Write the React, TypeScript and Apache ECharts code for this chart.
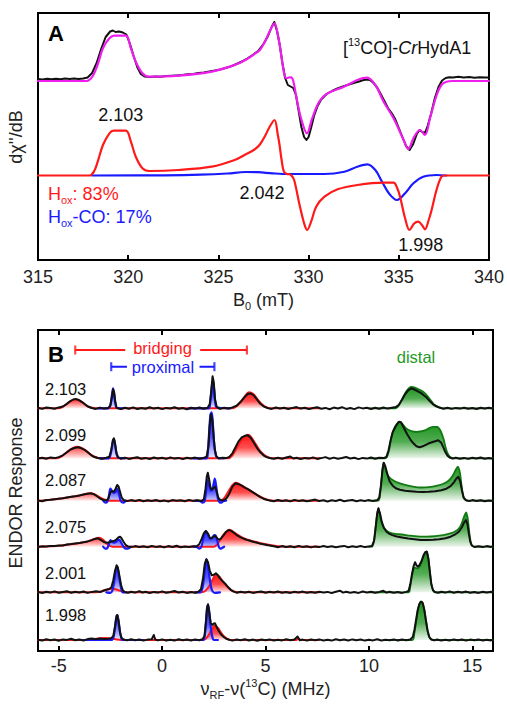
import React, { useEffect, useRef } from "react";
import * as echarts from "echarts";

type P = [number, number] | null;

// ---------------- Panel A: EPR (B0 in mT, signal in arbitrary units relative to baseline) ----------------
const aExperiment: P[] = [
  [315.0, 2], [315.25, 1.6], [315.5, 2.3], [315.75, 1.8], [316.0, 2.2], [316.25, 1.7], [316.5, 2.4], [316.75, 2.0],
  [317.0, 2.5], [317.25, 1.9], [317.5, 2.6], [317.75, 3.5], [318.0, 8], [318.25, 18], [318.5, 32], [318.75, 44],
  [319.0, 49.5], [319.15, 50.5], [319.3, 49], [319.5, 49.5], [319.7, 48.5], [319.9, 46.5], [320.1, 37], [320.3, 25],
  [320.5, 14], [320.7, 7], [320.9, 4.5], [321.2, 4], [321.5, 4.6], [321.8, 4.3], [322.1, 5], [322.4, 5.3], [322.7, 5.6],
  [323.0, 6], [323.3, 6.8], [323.6, 7.1], [323.9, 8], [324.2, 8.4], [324.5, 9.6], [324.8, 10.4], [325.1, 11.6],
  [325.4, 13], [325.7, 14.6], [326.0, 17], [326.3, 19.5], [326.6, 22.5], [326.9, 26], [327.2, 30], [327.5, 37],
  [327.75, 45], [327.95, 54], [328.1, 59], [328.25, 50], [328.4, 36], [328.55, 18], [328.7, 3], [328.85, -4],
  [329.0, -5.5], [329.15, -7], [329.3, -14], [329.45, -30], [329.6, -46], [329.75, -56], [329.88, -59], [330.0, -56],
  [330.15, -46], [330.3, -35], [330.5, -25], [330.7, -18.5], [331.0, -13], [331.3, -10], [331.6, -7.5], [331.9, -5.5],
  [332.2, -3.8], [332.5, -2], [332.8, -0.5], [333.0, 0.8], [333.2, 1.5], [333.4, 1], [333.6, -2], [333.8, -6.5],
  [334.0, -13], [334.2, -20], [334.4, -27], [334.6, -32], [334.8, -38], [335.0, -47], [335.2, -56], [335.4, -65],
  [335.6, -69], [335.8, -63], [336.0, -53], [336.15, -49], [336.3, -51], [336.45, -52], [336.6, -45], [336.8, -32],
  [337.0, -17], [337.2, -6], [337.4, 0.5], [337.6, 3], [337.8, 3.8], [338.0, 3.4], [338.3, 4.2], [338.6, 3.6],
  [338.9, 3.9], [339.2, 3.3], [339.5, 3.8], [339.8, 3.4], [340.0, 3.6],
];
const aSimulation: P[] = [
  [315, 0], [317.7, 0], [318.0, 4], [318.3, 16], [318.6, 32.7], [318.96, 42.7], [319.24, 45.3], [319.87, 45.3],
  [320.15, 32.7], [320.42, 19.3], [320.79, 7.7], [321.15, 4.3], [322.8, 5.3], [324.63, 9.3], [325.9, 16], [326.5, 21],
  [327.0, 27], [327.3, 31], [327.6, 40], [327.85, 50], [328.11, 57.7], [328.3, 46], [328.45, 30], [328.6, 12],
  [328.75, 2.7], [328.9, 3.5], [329.03, 3.7], [329.15, 0], [329.3, -14], [329.58, -37.3], [329.91, -52.3],
  [330.2, -37.3], [330.59, -20.7], [331.06, -12.3], [331.96, -5.7], [332.7, 1], [333.24, 3.3], [333.7, -4],
  [334.16, -20.7], [334.71, -37.3], [335.27, -59], [335.53, -68], [335.81, -57.3], [336.17, -49], [336.45, -54],
  [336.73, -37.3], [337.1, -14], [337.36, -4], [337.64, -0.7], [338, 0], [340, 0],
];
const aHox: P[] = [
  [315, 0], [317.86, 0], [318.1, 4], [318.31, 13.8], [318.6, 30.5], [318.96, 42.2], [319.2, 44.8], [319.87, 44.8],
  [320.15, 33.8], [320.42, 18.8], [320.79, 7.2], [321.15, 4.5], [322.8, 5.5], [324.63, 8.8], [325.9, 15.5], [326.5, 21],
  [327.0, 26], [327.3, 31], [327.6, 40], [327.85, 49], [328.11, 55.5], [328.3, 40], [328.39, 30.5], [328.5, 16],
  [328.63, 3.8], [328.8, 1.5], [328.94, 1.2], [329.05, 0], [329.2, -4.5], [329.48, -27.8], [329.75, -47.8],
  [329.92, -54.5], [330.14, -46.2], [330.42, -31.2], [330.88, -21.2], [331.61, -13.8], [332.71, -9.5], [334.16, -7.2],
  [334.71, -7.2], [334.9, -12], [335.07, -21.2], [335.35, -42.8], [335.59, -54.5], [335.85, -48], [336.08, -46.2],
  [336.3, -50], [336.45, -53.8], [336.65, -45], [336.82, -34.5], [337.09, -14.5], [337.36, -1.2], [337.55, 0], [340, 0],
];
const aHoxCO: P[] = [
  [318, 0], [322, 0.2], [324, 0.8], [325.5, 2], [326.5, 3.5], [327.2, 3.3], [328.0, 2.2], [328.86, 1.5], [330.88, 1.5],
  [331.98, 3.8], [332.7, 8.8], [333.26, 11.2], [333.7, 5.5], [334.07, -6.2], [334.45, -17.8], [334.9, -24.5],
  [335.35, -17.8], [335.81, -7.8], [336.36, -1.2], [337.09, 0.5], [337.64, 0],
];
const aGValues = ["2.103", "2.042", "1.998"];
const aFractions = { hox: "83%", hoxco: "17%" };

// ---------------- Panel B: ENDOR (MHz, signal relative to each trace's baseline) ----------------
const endorGValues = ["2.103", "2.099", "2.087", "2.075", "2.001", "1.998"];

const exp2103: P[] = [
  [-6.0, 0.5], [-5.8, -0.6], [-5.6, 0.8], [-5.4, 0.2], [-5.2, -0.5], [-5.0, 0.9], [-4.8, 1.8], [-4.6, 4.5], [-4.45, 7],
  [-4.3, 8.8], [-4.15, 9.2], [-4.0, 8], [-3.85, 6], [-3.7, 3.5], [-3.55, 1.5], [-3.4, 0.3], [-3.2, -0.6], [-3.0, 0.7],
  [-2.8, -0.3], [-2.6, 0.4], [-2.5, 3], [-2.42, 12], [-2.37, 19], [-2.32, 16], [-2.26, 6], [-2.2, 0.5], [-2.0, -0.8],
  [-1.8, 0.6], [-1.6, -0.4], [-1.4, 0.9], [-1.2, -0.7], [-1.0, 0.3], [-0.8, -0.5], [-0.6, 1], [-0.4, -0.3], [-0.2, 0.6],
  [0.0, -0.8], [0.2, 0.4], [0.4, -0.2], [0.6, 1.1], [0.8, -0.5], [1.0, 0.3], [1.2, -0.9], [1.4, 0.6], [1.6, -0.3],
  [1.8, 0.8], [2.0, -0.4], [2.2, 0.5], [2.3, 4], [2.38, 18], [2.44, 32], [2.5, 26], [2.56, 9], [2.64, 1.5], [2.8, -0.6],
  [3.0, 0.5], [3.2, -0.3], [3.4, 0.9], [3.6, 2.5], [3.8, 6.5], [4.0, 11.5], [4.15, 14.5], [4.3, 14.8], [4.45, 12.5],
  [4.6, 8.5], [4.75, 4.5], [4.9, 2], [5.1, 0.3], [5.3, -0.6], [5.5, 0.8], [5.7, -0.2], [5.9, 0.5], [6.1, -0.7],
  [6.3, 0.4], [6.5, 1.2], [6.7, -0.3], [6.9, 0.6], [7.1, -0.8], [7.3, 0.3], [7.5, 1.0], [7.7, -0.5], [7.9, 0.4],
  [8.1, -0.9], [8.3, 0.7], [8.5, -0.2], [8.7, 1.1], [8.9, -0.6], [9.1, 0.3], [9.3, -0.8], [9.5, 0.9], [9.7, -0.1],
  [9.9, 0.6], [10.1, -0.7], [10.3, 0.5], [10.5, -0.4], [10.7, 0.8], [10.9, -0.3], [11.1, 0.6], [11.3, 1.2], [11.45, 3.5],
  [11.6, 8.5], [11.75, 14], [11.9, 18], [12.05, 20], [12.2, 18.8], [12.35, 17.2], [12.5, 15.5], [12.65, 13],
  [12.8, 10.5], [12.95, 7], [13.1, 4], [13.25, 2], [13.4, 0.8], [13.6, -0.4], [13.8, 0.5], [14.0, -0.6], [14.2, 0.4],
  [14.4, -0.3], [14.6, 0.7], [14.8, -0.5], [15.0, 0.3], [15.2, -0.7], [15.4, 0.6], [15.6, -0.2], [15.8, 0.5], [16.0, -0.3],
];
const bri2103: P[] = [
  [-6, 0], [-5.0, 0], [-4.8, 1.5], [-4.6, 4.5], [-4.4, 7.5], [-4.2, 9], [-4.0, 8], [-3.8, 5], [-3.6, 2], [-3.4, 0.5],
  [-3.2, 0], [3.4, 0], [3.6, 2], [3.8, 6.5], [4.0, 12], [4.2, 16], [4.4, 14.5], [4.6, 9.5], [4.8, 4.5], [5.0, 1.5],
  [5.2, 0], [7.6, 0],
];
const pro2103: P[] = [
  [-3.1, 0], [-2.6, 0], [-2.5, 3], [-2.42, 14], [-2.37, 20], [-2.32, 15], [-2.26, 5], [-2.2, 0.5], [-1.9, 0], null,
  [1.3, 0], [2.25, 0], [2.32, 4], [2.38, 16], [2.44, 27], [2.5, 22], [2.56, 8], [2.64, 1], [3.3, 0],
];
const dis2103: P[] = [
  [10.0, 0], [11.3, 0], [11.45, 3], [11.6, 9], [11.75, 15], [11.9, 19.5], [12.05, 21.5], [12.2, 21], [12.35, 19.5],
  [12.5, 18], [12.65, 16], [12.8, 13], [12.95, 9], [13.1, 5], [13.25, 2.5], [13.4, 1], [13.6, 0], [16.0, 0],
];

const exp2099: P[] = [
  [-6.0, -0.3], [-5.8, 0.6], [-5.6, -0.5], [-5.4, 0.9], [-5.2, 0.2], [-5.0, 1.2], [-4.8, 3], [-4.6, 6], [-4.4, 9],
  [-4.2, 10.5], [-4.05, 11], [-3.9, 10], [-3.75, 8.5], [-3.6, 6], [-3.45, 3.5], [-3.3, 1.5], [-3.1, 0.3], [-2.9, -0.5],
  [-2.7, 0.6], [-2.55, 1.5], [-2.45, 9], [-2.38, 18], [-2.33, 20], [-2.27, 14], [-2.2, 5], [-2.12, 1], [-2.0, -0.4],
  [-1.8, 0.7], [-1.6, -0.6], [-1.4, 0.3], [-1.2, 1], [-1.0, -0.5], [-0.8, 0.4], [-0.6, -0.7], [-0.4, 0.8], [-0.2, -0.2],
  [0.0, 0.5], [0.2, -0.6], [0.4, 0.9], [0.6, -0.3], [0.8, 0.4], [1.0, -0.8], [1.2, 0.6], [1.4, -0.2], [1.6, 0.7],
  [1.8, -0.5], [2.0, 0.3], [2.15, 1.5], [2.24, 12], [2.3, 32], [2.36, 44], [2.42, 40], [2.48, 25], [2.55, 9], [2.62, 2],
  [2.75, -0.3], [2.9, 0.6], [3.1, 0.2], [3.25, 1.5], [3.4, 5], [3.55, 11], [3.7, 17], [3.85, 21], [4.0, 22.5],
  [4.15, 23], [4.3, 20], [4.45, 15], [4.6, 10], [4.75, 6], [4.9, 3], [5.05, 1.2], [5.2, 0.3], [5.4, -0.5], [5.6, 0.6],
  [5.8, -0.4], [6.0, 0.8], [6.2, 1.8], [6.35, -0.2], [6.5, 0.5], [6.7, -0.7], [6.9, 0.4], [7.1, -0.3], [7.3, 0.9],
  [7.5, -0.6], [7.7, 0.2], [7.9, 1.2], [8.1, -0.4], [8.3, 0.7], [8.5, -0.5], [8.7, 0.3], [8.9, 1.3], [9.1, -0.2],
  [9.3, 0.6], [9.5, -0.8], [9.7, 0.4], [9.9, -0.3], [10.1, 0.8], [10.3, -0.5], [10.5, 0.6], [10.7, 0.2], [10.85, 1.5],
  [10.95, 8], [11.05, 18], [11.15, 26], [11.3, 32], [11.45, 36.5], [11.55, 36], [11.7, 30], [11.85, 24], [12.0, 19],
  [12.15, 15], [12.3, 12], [12.45, 11], [12.6, 12], [12.75, 13.5], [12.9, 15], [13.05, 16], [13.2, 17], [13.35, 18],
  [13.5, 15.5], [13.6, 11], [13.7, 6], [13.8, 2.5], [13.9, 0.8], [14.05, -0.3], [14.2, 0.7], [14.4, -0.5], [14.6, 0.4],
  [14.8, -0.6], [15.0, 0.5], [15.2, -0.2], [15.4, 0.8], [15.6, -0.4], [15.8, 0.3], [16.0, -0.5],
];
const bri2099: P[] = [
  [-6, 0], [-5.1, 0], [-4.9, 1.5], [-4.7, 4.5], [-4.5, 8], [-4.3, 10.5], [-4.1, 11.5], [-3.9, 10.5], [-3.7, 8],
  [-3.5, 4.5], [-3.3, 1.8], [-3.1, 0.3], [-2.9, 0], [3.2, 0], [3.4, 3], [3.6, 10], [3.8, 17], [4.0, 21.5], [4.15, 23.5],
  [4.3, 21.5], [4.5, 15], [4.7, 8.5], [4.9, 4], [5.1, 1.3], [5.3, 0], [7.6, 0],
];
const pro2099: P[] = [
  [-3.0, 0], [-2.6, 0], [-2.5, 3], [-2.43, 11], [-2.37, 18], [-2.32, 19], [-2.26, 12], [-2.2, 4], [-2.12, 0.5],
  [-1.8, 0], null, [1.5, 0], [2.15, 0], [2.22, 8], [2.28, 28], [2.34, 44], [2.4, 46], [2.46, 33], [2.52, 14], [2.6, 3],
  [2.7, 0.3], [3.0, 0],
];
const dis2099: P[] = [
  [10, 0], [10.8, 0], [10.95, 6], [11.05, 17], [11.15, 26], [11.3, 33], [11.45, 36.5], [11.6, 35], [11.75, 31],
  [11.9, 28.5], [12.1, 27], [12.3, 26.5], [12.5, 27], [12.7, 28], [12.9, 30], [13.1, 31.5], [13.3, 31.5], [13.45, 28],
  [13.6, 20], [13.72, 10], [13.85, 3], [14.0, 0.5], [14.2, 0], [16, 0],
];

const exp2087: P[] = [
  [-6.0, 0.3], [-5.8, -0.5], [-5.6, 0.7], [-5.4, 0.9], [-5.2, 1.4], [-5.0, 1.9], [-4.8, 2.4], [-4.6, 3.2], [-4.4, 3.9],
  [-4.2, 4.5], [-4.0, 5.3], [-3.8, 6.2], [-3.6, 7], [-3.45, 7.4], [-3.3, 6.5], [-3.15, 4.5], [-3.0, 2.2], [-2.85, 0.8],
  [-2.7, 0.3], [-2.6, 2], [-2.5, 8.5], [-2.42, 9.5], [-2.33, 9], [-2.25, 12], [-2.17, 15.7], [-2.1, 14], [-2.02, 8],
  [-1.95, 3], [-1.85, 0.5], [-1.7, -0.4], [-1.5, 0.6], [-1.3, -0.3], [-1.1, 0.8], [-0.9, -0.6], [-0.7, 0.4], [-0.5, -0.2],
  [-0.3, 0.7], [-0.1, -0.5], [0.1, 0.3], [0.3, -0.8], [0.5, 0.6], [0.7, -0.1], [0.9, 0.5], [1.1, -0.6], [1.3, 0.8],
  [1.5, -0.2], [1.7, 0.4], [1.9, -0.4], [2.02, 1.5], [2.1, 12], [2.16, 24], [2.21, 28], [2.27, 22], [2.34, 13],
  [2.42, 11], [2.5, 13], [2.57, 14], [2.64, 9], [2.72, 3], [2.82, 0.6], [2.95, 0.2], [3.1, 2], [3.25, 7], [3.4, 14],
  [3.55, 17.4], [3.7, 16.5], [3.85, 15], [4.0, 13], [4.15, 11.5], [4.3, 9.5], [4.45, 7.5], [4.6, 5.5], [4.75, 3.5],
  [4.9, 2], [5.05, 1], [5.2, 0.3], [5.4, -0.5], [5.6, 0.7], [5.8, -0.3], [6.0, 0.4], [6.2, -0.7], [6.4, 0.8],
  [6.6, -0.2], [6.8, 0.5], [7.0, -0.6], [7.2, 0.3], [7.4, 1.1], [7.6, -0.4], [7.8, 0.5], [8.0, -0.8], [8.2, 0.4],
  [8.4, -0.3], [8.6, 0.9], [8.8, -0.5], [9.0, 0.2], [9.2, 0.7], [9.4, -0.6], [9.6, 0.4], [9.8, -0.2], [10.0, 0.6],
  [10.2, -0.4], [10.4, 0.5], [10.5, 3], [10.58, 15], [10.65, 30], [10.72, 38], [10.8, 34], [10.9, 26], [11.0, 19.5],
  [11.15, 15], [11.3, 12.5], [11.5, 11], [11.75, 10], [12.0, 9.5], [12.3, 9], [12.6, 8.8], [12.9, 9], [13.2, 9.5],
  [13.5, 10.5], [13.75, 12], [13.95, 14.5], [14.1, 18], [14.22, 22], [14.32, 24], [14.42, 19], [14.5, 10], [14.58, 3],
  [14.7, 0.5], [14.85, -0.4], [15.0, 0.6], [15.2, -0.3], [15.4, 0.5], [15.6, -0.6], [15.8, 0.3], [16.0, -0.2],
];
const bri2087: P[] = [
  [-6, 0], [-5.6, 0.5], [-5.2, 1.5], [-4.8, 2.5], [-4.4, 3.8], [-4.0, 5.2], [-3.7, 6.8], [-3.5, 7.5], [-3.3, 6.8],
  [-3.1, 4.5], [-2.9, 2], [-2.7, 0.5], [-2.5, 0], [2.8, 0], [3.0, 2.5], [3.2, 9], [3.4, 15.5], [3.55, 18], [3.7, 17],
  [3.9, 14.5], [4.1, 12], [4.3, 9.5], [4.5, 7], [4.7, 4.5], [4.9, 2.5], [5.1, 1], [5.4, 0], [7.6, 0],
];
const pro2087: P[] = [
  [-2.85, 0], [-2.75, -2], [-2.65, -1], [-2.57, 5], [-2.5, 12], [-2.43, 10], [-2.33, 8], [-2.25, 9], [-2.17, 12],
  [-2.1, 8], [-2.02, 1], [-1.95, -1.5], [-1.85, -2], [-1.75, 0], null, [1.6, 0], [1.85, -0.5], [1.95, -2], [2.05, -1],
  [2.12, 8], [2.2, 21], [2.28, 15], [2.36, 10], [2.45, 13], [2.55, 22], [2.62, 14], [2.7, 2], [2.78, -1.5], [2.86, -2],
  [2.95, -0.5], [3.1, 0],
];
const dis2087: P[] = [
  [10, 0], [10.45, 0], [10.55, 8], [10.62, 22], [10.7, 38], [10.78, 33], [10.9, 26], [11.05, 22], [11.25, 19.5],
  [11.5, 17.4], [11.8, 15.5], [12.2, 13.8], [12.5, 13.2], [12.9, 13.5], [13.3, 15], [13.6, 17], [13.85, 20], [14.05, 25],
  [14.2, 31], [14.3, 34], [14.4, 28], [14.48, 15], [14.56, 5], [14.65, 1], [14.8, 0], [16, 0],
];

const exp2075: P[] = [
  [-6.0, -0.4], [-5.8, 0.5], [-5.6, 0.2], [-5.4, 0.8], [-5.2, 0.6], [-5.0, 1.3], [-4.8, 1.2], [-4.6, 2.1], [-4.4, 2.6],
  [-4.2, 3.2], [-4.0, 3.6], [-3.8, 4.4], [-3.6, 5.3], [-3.4, 6.6], [-3.25, 7.8], [-3.1, 8.4], [-2.95, 6.5], [-2.8, 4.5],
  [-2.65, 4], [-2.5, 4.8], [-2.4, 5.5], [-2.3, 6], [-2.2, 7.5], [-2.1, 9.5], [-2.03, 10], [-1.95, 8], [-1.85, 4.5],
  [-1.75, 1.5], [-1.65, 0.3], [-1.5, -0.4], [-1.3, 0.6], [-1.1, -0.3], [-0.9, 0.5], [-0.7, -0.6], [-0.5, 0.8],
  [-0.3, -0.2], [-0.1, 0.4], [0.1, -0.7], [0.3, 0.6], [0.5, -0.3], [0.7, 0.9], [0.9, -0.5], [1.1, 0.3], [1.3, -0.4],
  [1.5, 0.5], [1.65, 0.2], [1.8, 2.5], [1.92, 8], [2.02, 13.5], [2.12, 15.7], [2.22, 13], [2.32, 8.5], [2.4, 8.5],
  [2.5, 10.2], [2.58, 10.7], [2.66, 8.5], [2.76, 7], [2.86, 8.5], [2.98, 11.5], [3.1, 15], [3.22, 16.7], [3.35, 15.8],
  [3.5, 13.5], [3.65, 11], [3.8, 9.3], [3.95, 8], [4.1, 6.8], [4.25, 6], [4.4, 5], [4.55, 4.2], [4.7, 3.3], [4.85, 2.6],
  [5.0, 2], [5.2, 1.2], [5.4, 0.4], [5.6, -0.5], [5.8, 0.6], [6.0, -0.3], [6.2, 0.4], [6.4, -0.6], [6.6, 0.8],
  [6.8, -0.2], [7.0, 0.5], [7.2, -0.7], [7.4, 0.3], [7.6, -0.4], [7.8, 0.7], [8.0, -0.3], [8.2, 0.5], [8.4, -0.6],
  [8.6, 0.2], [8.8, 0.8], [9.0, -0.5], [9.2, 0.4], [9.4, -0.2], [9.6, 0.7], [9.8, -0.4], [10.0, 0.3], [10.15, 0.8],
  [10.25, 6], [10.33, 20], [10.4, 33], [10.46, 38.4], [10.54, 33], [10.62, 25], [10.72, 19], [10.85, 15], [10.95, 13.4],
  [11.1, 11.8], [11.3, 10.5], [11.6, 9.3], [11.9, 8.2], [12.2, 7.5], [12.5, 6.7], [12.8, 6.8], [13.1, 7], [13.4, 7.5],
  [13.7, 8.5], [13.95, 10], [14.15, 12], [14.35, 15], [14.5, 19.5], [14.6, 24], [14.69, 26.7], [14.77, 22], [14.84, 12],
  [14.9, 5], [14.97, 1.2], [15.1, -0.3], [15.3, 0.5], [15.5, -0.4], [15.7, 0.6], [15.9, -0.2], [16.0, 0.3],
];
const bri2075: P[] = [
  [-6, 0], [-5.6, 0.3], [-5.0, 1], [-4.5, 2.3], [-4.0, 3.8], [-3.6, 5.3], [-3.3, 7.5], [-3.05, 9], [-2.85, 7],
  [-2.7, 3.5], [-2.55, 1], [-2.4, 0], [2.5, 0], [2.65, 2], [2.8, 6.5], [2.95, 11.5], [3.1, 15], [3.25, 17], [3.4, 15.5],
  [3.6, 12.5], [3.8, 10], [4.0, 8], [4.3, 6], [4.6, 4.5], [4.9, 3], [5.2, 1.8], [5.5, 0.8], [5.8, 0.2], [6.0, 0],
  [7.6, 0],
];
const pro2075: P[] = [
  [-2.85, 0], [-2.75, -2], [-2.65, -1.5], [-2.58, 2], [-2.5, 6.5], [-2.42, 5], [-2.32, 4], [-2.22, 5], [-2.12, 7],
  [-2.04, 6.5], [-1.95, 3], [-1.85, -0.5], [-1.75, -2], [-1.6, -1.5], [-1.5, 0], null, [1.55, 0], [1.7, -0.5],
  [1.8, -2], [1.9, 0], [2.02, 11], [2.12, 15.7], [2.22, 12], [2.32, 8], [2.42, 9], [2.52, 11.5], [2.6, 10.7], [2.68, 5],
  [2.75, -0.5], [2.82, -2], [2.92, -1], [3.0, 0],
];
const dis2075: P[] = [
  [10, 0], [10.15, 0], [10.25, 6], [10.33, 20], [10.4, 33], [10.46, 38.4], [10.55, 30], [10.65, 22], [10.8, 17],
  [11.0, 14.2], [11.3, 12.8], [11.6, 12.2], [12.0, 11], [12.5, 10], [13.0, 10.2], [13.4, 11], [13.8, 12.6], [14.1, 14.5],
  [14.35, 18], [14.5, 24], [14.62, 31], [14.7, 34.4], [14.78, 28], [14.85, 15], [14.92, 5], [15.0, 1], [15.1, 0],
  [16, 0],
];

const exp2001: P[] = [
  [-6.0, 0.4], [-5.8, -0.7], [-5.6, 0.5], [-5.4, -0.3], [-5.2, 0.9], [-5.0, -0.5], [-4.8, 0.3], [-4.6, 1.1], [-4.4, -0.4],
  [-4.2, 0.6], [-4.0, -0.2], [-3.8, 0.8], [-3.6, -0.6], [-3.4, 0.4], [-3.2, 1], [-3.0, 0.2], [-2.85, 1.5], [-2.7, 2.5],
  [-2.55, 3.2], [-2.45, 5], [-2.36, 12], [-2.28, 21], [-2.2, 27], [-2.14, 25], [-2.06, 16], [-1.98, 7], [-1.9, 2],
  [-1.8, 0.3], [-1.65, -0.5], [-1.5, 0.6], [-1.3, -0.3], [-1.1, 1.2], [-0.95, -0.2], [-0.8, 0.5], [-0.6, -0.7],
  [-0.4, 0.4], [-0.2, -0.3], [0.0, 0.9], [0.2, -0.4], [0.4, 0.3], [0.6, 1.3], [0.8, -0.2], [1.0, 0.5], [1.2, -0.6],
  [1.4, 0.3], [1.6, -0.4], [1.75, 0.6], [1.88, 3], [1.98, 14], [2.06, 28], [2.14, 33], [2.22, 30], [2.3, 22], [2.4, 17],
  [2.5, 17.5], [2.6, 19], [2.7, 17], [2.82, 13.5], [2.95, 10.5], [3.08, 8], [3.2, 5], [3.32, 2.5], [3.45, 1], [3.6, -0.4],
  [3.8, 0.6], [4.0, -0.3], [4.2, 0.5], [4.4, -0.6], [4.6, 0.2], [4.8, 0.8], [5.0, -0.4], [5.2, 0.5], [5.4, -0.2],
  [5.6, 0.8], [5.8, -0.5], [6.0, 0.3], [6.2, -0.6], [6.4, 0.5], [6.6, -0.1], [6.8, 0.7], [7.0, -0.5], [7.2, 0.2],
  [7.4, -0.4], [7.6, 0.6], [7.8, -0.2], [8.0, 0.4], [8.2, -0.7], [8.4, 0.5], [8.6, 1.6], [8.75, -0.3], [8.9, 0.6],
  [9.1, -0.4], [9.3, 0.3], [9.5, -0.6], [9.7, 0.8], [9.9, -0.2], [10.1, 0.5], [10.3, -0.5], [10.5, 0.4], [10.7, 1.5],
  [10.85, -0.3], [11.0, 0.6], [11.2, -0.4], [11.4, 0.3], [11.6, -0.6], [11.8, 0.4], [11.92, 1.5], [12.0, 8], [12.08, 18],
  [12.16, 26], [12.23, 30], [12.3, 27], [12.36, 25.6], [12.44, 27], [12.54, 31], [12.64, 37], [12.72, 40], [12.8, 40.6],
  [12.88, 33], [12.95, 20], [13.02, 8], [13.1, 2], [13.2, 0.3], [13.35, -0.5], [13.5, 0.6], [13.7, -0.3], [13.9, 0.9],
  [14.1, -0.4], [14.3, 0.5], [14.5, -0.2], [14.7, 0.7], [14.9, -0.5], [15.1, 0.3], [15.3, -0.6], [15.5, 0.5],
  [15.7, -0.1], [15.9, 0.6], [16.0, -0.2],
];
const bri2001: P[] = [
  [-6, 0], [-3.2, 0], [-2.95, 0.8], [-2.7, 2.5], [-2.5, 3.5], [-2.3, 3.2], [-2.1, 2], [-1.9, 0.7], [-1.7, 0], [1.9, 0],
  [2.1, 1.5], [2.3, 7], [2.45, 13], [2.6, 17.5], [2.75, 16], [2.9, 12], [3.05, 8], [3.2, 4.5], [3.35, 2], [3.5, 0.5],
  [3.7, 0], [7.6, 0],
];
const pro2001: P[] = [
  [-2.7, 0], [-2.5, -0.5], [-2.4, 2], [-2.32, 10], [-2.25, 21], [-2.19, 25], [-2.13, 22], [-2.06, 13], [-1.98, 4],
  [-1.9, 0], [-1.75, 0], null, [1.6, 0], [1.85, 0], [1.95, 4], [2.02, 14], [2.08, 26], [2.14, 33], [2.2, 29], [2.28, 17],
  [2.36, 6], [2.44, 1], [2.55, -0.5], [2.8, 0],
];
const dis2001: P[] = [
  [10.0, 0], [11.92, 0], [12.0, 6], [12.08, 16], [12.16, 23], [12.23, 25], [12.3, 24], [12.38, 24], [12.46, 26],
  [12.56, 31], [12.66, 37], [12.74, 40], [12.8, 41], [12.88, 33], [12.95, 20], [13.02, 8], [13.1, 2], [13.2, 0], [16, 0],
];

const exp1998: P[] = [
  [-6.0, 0.3], [-5.8, -0.6], [-5.6, 0.8], [-5.4, -0.2], [-5.2, 0.5], [-5.0, -0.8], [-4.8, 0.6], [-4.6, 0.1], [-4.4, 1.2],
  [-4.2, -0.3], [-4.0, 0.5], [-3.8, -0.5], [-3.6, 0.9], [-3.4, 1.5], [-3.2, 0.7], [-3.0, 1.6], [-2.8, 0.9], [-2.6, 1.3],
  [-2.45, 1.8], [-2.36, 4], [-2.28, 13], [-2.2, 24], [-2.16, 25], [-2.1, 18], [-2.03, 7], [-1.96, 2], [-1.85, 0.5],
  [-1.7, -0.4], [-1.5, 0.7], [-1.3, -0.3], [-1.1, 0.5], [-0.9, -0.6], [-0.7, 0.4], [-0.5, 0.8], [-0.4, 5], [-0.33, 0.5],
  [-0.2, -0.4], [0.0, 0.6], [0.2, -0.5], [0.4, 0.3], [0.6, -0.6], [0.8, 0.7], [1.0, -0.3], [1.2, 0.4], [1.4, -0.5],
  [1.6, 0.6], [1.8, -0.2], [1.95, 0.8], [2.05, 4], [2.12, 18], [2.18, 33], [2.22, 35.7], [2.28, 28], [2.35, 17],
  [2.42, 15], [2.5, 16.5], [2.56, 16.7], [2.64, 13], [2.74, 9], [2.85, 5.5], [2.98, 3], [3.1, 1.3], [3.25, 0.2],
  [3.4, -0.6], [3.6, 0.5], [3.8, -0.3], [4.0, 0.8], [4.2, -0.5], [4.4, 0.4], [4.6, -0.7], [4.8, 0.5], [5.0, -0.2],
  [5.2, 0.6], [5.4, -0.5], [5.6, 0.3], [5.8, -0.4], [6.0, 0.7], [6.2, -0.3], [6.4, 0.5], [6.55, 3.5], [6.65, -0.2],
  [6.8, 0.4], [7.0, -0.6], [7.2, 0.5], [7.4, -0.3], [7.6, 0.6], [7.8, -0.5], [8.0, 0.2], [8.2, -0.6], [8.4, 0.7],
  [8.6, -0.3], [8.8, 0.4], [9.0, -0.5], [9.2, 0.6], [9.4, -0.2], [9.6, 0.5], [9.8, -0.6], [10.0, 0.3], [10.2, -0.4],
  [10.4, 0.7], [10.6, -0.5], [10.8, 0.3], [11.0, -0.3], [11.2, 0.6], [11.4, -0.5], [11.6, 0.4], [11.8, -0.2], [12.0, 0.6],
  [12.12, 3], [12.2, 10], [12.28, 20], [12.36, 30], [12.44, 36], [12.52, 38.3], [12.6, 37], [12.68, 30], [12.76, 19],
  [12.84, 9], [12.92, 3], [13.0, 0.8], [13.15, -0.4], [13.3, 0.5], [13.5, -0.6], [13.7, 0.3], [13.9, -0.5], [14.1, 0.6],
  [14.3, -0.2], [14.5, 0.5], [14.7, -0.6], [14.9, 0.4], [15.1, -0.3], [15.3, 0.6], [15.5, -0.5], [15.7, 0.3],
  [15.9, -0.4], [16.0, 0.2],
];
const bri1998: P[] = [
  [-6, 0], [-3.6, 0], [-3.3, 1], [-3.0, 1.8], [-2.7, 2], [-2.45, 1.5], [-2.2, 0.5], [-2.0, 0], [1.9, 0], [2.1, 1],
  [2.25, 5], [2.4, 11], [2.55, 14.5], [2.7, 12], [2.85, 7.5], [3.0, 3.5], [3.15, 1.2], [3.3, 0], [6.5, 0], [6.6, 1.5],
  [6.7, 0], [7.6, 0],
];
const pro1998: P[] = [
  [-3.8, 0], [-2.5, 0], [-2.36, 2], [-2.28, 12], [-2.22, 22], [-2.17, 25], [-2.11, 20], [-2.04, 9], [-1.97, 2],
  [-1.88, 0], [-0.9, 0], null, [1.6, 0], [1.98, 0], [2.06, 4], [2.12, 18], [2.18, 33], [2.23, 35], [2.29, 26], [2.36, 12],
  [2.43, 3], [2.5, 0], [2.7, 0],
];
const dis1998: P[] = [
  [11, 0], [12.1, 0], [12.2, 7], [12.28, 18], [12.36, 29], [12.44, 36], [12.52, 38.5], [12.6, 37], [12.68, 30],
  [12.76, 19], [12.84, 9], [12.92, 3], [13.0, 0.8], [13.1, 0], [16, 0],
];

const endorExperiment = [exp2103, exp2099, exp2087, exp2075, exp2001, exp1998];
const endorBridging = [bri2103, bri2099, bri2087, bri2075, bri2001, bri1998];
const endorProximal = [pro2103, pro2099, pro2087, pro2075, pro2001, pro1998];
const endorDistal = [dis2103, dis2099, dis2087, dis2075, dis2001, dis1998];

// range markers (MHz)
const bridgingRange = [-4.2, 4.1];
const proximalRange = [-2.46, 2.53];

// ---------------- layout (not data) ----------------
const A_OFFSET_TOP = 179;
const A_OFFSET_BOTTOM = 84.5;
const B_OFFSETS = [242.7, 192.7, 150.3, 104.3, 58.7, 11];
const B_LABEL_Y = [389.3, 435, 480, 526.7, 573.3, 615];
const BAR_Y_BRIDGING = 301;
const BAR_Y_PROXIMAL = 284.3;
const BRIDGING_GAP = [-1.78, 1.84];
const PROXIMAL_GAP = [-1.7, 1.81];

const FONT = '"Liberation Sans", Arial, Helvetica, sans-serif';
const RED = "#ff1a1a";
const BLUE = "#1a1aff";
const GREEN = "#1f9a1f";
const GREEN_LINE = "#127a12";
const MAGENTA = "#ee1fee";
const INK = "#111111";

const shift = (pts: P[], off: number) =>
  pts.map((p) => (p ? [p[0], p[1] + off] : ["-", "-"]));

function lineSeries(pts: P[], off: number, color: string, width: number, panel: 0 | 1, extra: any = {}) {
  return {
    type: "line",
    xAxisIndex: panel === 0 ? 0 : 2,
    yAxisIndex: panel,
    data: shift(pts, off),
    symbol: "none",
    showSymbol: false,
    silent: true,
    connectNulls: false,
    lineStyle: { color, width, join: "round", cap: "round" },
    ...extra,
  };
}

function fillSeries(pts: P[], off: number, lineColor: string, rgb: string, width: number) {
  return lineSeries(pts, off, lineColor, width, 1, {
    smooth: 0.3,
    areaStyle: {
      origin: off,
      opacity: 1,
      color: new echarts.graphic.LinearGradient(0, 0, 0, 1, [
        { offset: 0, color: `rgba(${rgb},1)` },
        { offset: 0.55, color: `rgba(${rgb},0.75)` },
        { offset: 1, color: `rgba(${rgb},0.08)` },
      ]),
    },
  });
}

const rich = (size: number, color: string) => ({
  sub: { fontSize: Math.round(size * 0.62), fontFamily: FONT, color, verticalAlign: "bottom", lineHeight: Math.round(size * 0.62) },
  sup: { fontSize: Math.round(size * 0.62), fontFamily: FONT, color, verticalAlign: "top", lineHeight: Math.round(size * 0.62) },
  it: { fontSize: size, fontFamily: FONT, color, fontStyle: "italic", lineHeight: Math.round(size * 1.3) },
});

function buildOption() {
  const series: any[] = [];

  // Panel A
  series.push(lineSeries(aExperiment, A_OFFSET_TOP, INK, 2, 0));
  series.push(lineSeries(aSimulation, A_OFFSET_TOP, MAGENTA, 2.2, 0, { smooth: 0.35 }));
  series.push(lineSeries(aHoxCO, A_OFFSET_BOTTOM, BLUE, 2.2, 0, { smooth: 0.35 }));
  series.push(lineSeries(aHox, A_OFFSET_BOTTOM, RED, 2.2, 0, { smooth: 0.35 }));

  // Panel B simulations
  endorBridging.forEach((d, i) => series.push(fillSeries(d, B_OFFSETS[i], RED, "255,20,20", 2)));
  endorProximal.forEach((d, i) => series.push(fillSeries(d, B_OFFSETS[i], BLUE, "30,30,255", 2.2)));
  endorDistal.forEach((d, i) => series.push(fillSeries(d, B_OFFSETS[i], GREEN_LINE, "25,145,25", 1.8)));
  // Panel B experiment
  endorExperiment.forEach((d, i) => series.push(lineSeries(d, B_OFFSETS[i], INK, 2, 1)));

  // range bars
  const bar = (range: number[], gap: number[], y: number, color: string) => {
    series.push({
      type: "line", xAxisIndex: 2, yAxisIndex: 1, symbol: "none", silent: true,
      lineStyle: { color, width: 2 },
      data: [[range[0], y], [gap[0], y], ["-", "-"], [gap[1], y], [range[1], y]],
    });
    series.push({
      type: "scatter", xAxisIndex: 2, yAxisIndex: 1, silent: true,
      symbol: "rect", symbolSize: [2.2, 9], itemStyle: { color },
      data: [[range[0], y], [range[1], y]],
    });
  };
  bar(bridgingRange, BRIDGING_GAP, BAR_Y_BRIDGING, RED);
  bar(proximalRange, PROXIMAL_GAP, BAR_Y_PROXIMAL, BLUE);

  const tickStyle = { show: true, inside: true, length: 5, lineStyle: { color: "#000", width: 2 } };
  const labelStyle = { fontSize: 18, fontFamily: FONT, color: "#222" };

  const text = (x: number, y: number, t: string, color: string, size: number, align = "left", weight = "normal") => ({
    type: "text", x, y, silent: true, z: 50,
    style: {
      text: t, fill: color, fontSize: size, fontFamily: FONT, fontWeight: weight,
      lineHeight: Math.round(size * 1.3),
      align, verticalAlign: "middle", rich: rich(size, color),
    },
  });

  const graphic: any[] = [
    text(48, 33, "A", "#000", 22, "left", "bold"),
    text(48, 354, "B", "#000", 22, "left", "bold"),
    text(343, 48, "[{sup|13}CO]-{it|Cr}HydA1", INK, 18),
    text(120.7, 115, aGValues[0], INK, 18, "center"),
    text(262, 192.7, aGValues[1], INK, 18, "center"),
    text(420.7, 245, aGValues[2], INK, 18, "center"),
    text(48, 194, `H{sub|ox}: ${aFractions.hox}`, RED, 18),
    text(48, 217, `H{sub|ox}-CO: ${aFractions.hoxco}`, BLUE, 18),
    text(162.5, 348.3, "bridging", RED, 16.5, "center"),
    text(163, 366.7, "proximal", BLUE, 16.5, "center"),
    text(416, 357.3, "distal", GREEN, 16.5, "center"),
    {
      type: "text", x: 16, y: 137, rotation: Math.PI / 2, silent: true,
      style: { text: "dχ''/dB", fill: "#222", fontSize: 18, fontFamily: FONT, align: "center", verticalAlign: "middle" },
    },
    {
      type: "text", x: 16, y: 493, rotation: Math.PI / 2, silent: true,
      style: { text: "ENDOR Response", fill: "#222", fontSize: 18, fontFamily: FONT, align: "center", verticalAlign: "middle" },
    },
  ];
  endorGValues.forEach((g, i) => graphic.push(text(45, B_LABEL_Y[i], g, INK, 16.5)));

  return {
    animation: false,
    backgroundColor: "#ffffff",
    grid: [
      { left: 38, top: 13, width: 455, height: 247, show: true, borderColor: "#000", borderWidth: 2, backgroundColor: "transparent" },
      { left: 38, top: 330, width: 455, height: 321, show: true, borderColor: "#000", borderWidth: 2, backgroundColor: "transparent" },
    ],
    xAxis: [
      {
        type: "value", gridIndex: 0, min: 315, max: 340, interval: 5, position: "bottom",
        axisLine: { show: false }, axisTick: tickStyle, splitLine: { show: false },
        axisLabel: { ...labelStyle, margin: 8 },
        name: "B{sub|0} (mT)", nameLocation: "middle", nameGap: 28,
        nameTextStyle: { ...labelStyle, lineHeight: 23, rich: rich(18, "#222") },
      },
      {
        type: "value", gridIndex: 0, min: 315, max: 340, interval: 5, position: "top",
        axisLine: { show: false }, axisTick: tickStyle, splitLine: { show: false }, axisLabel: { show: false },
      },
      {
        type: "value", gridIndex: 1, min: -6, max: 16, splitNumber: 5, position: "bottom",
        axisLine: { show: false }, axisTick: tickStyle, splitLine: { show: false },
        axisLabel: { ...labelStyle, margin: 6, showMinLabel: false, showMaxLabel: false },
        name: "ν{sub|RF}-ν({sup|13}C) (MHz)", nameLocation: "middle", nameGap: 26,
        nameTextStyle: { ...labelStyle, lineHeight: 23, rich: rich(18, "#222") },
      },
      {
        type: "value", gridIndex: 1, min: -6, max: 16, splitNumber: 5, position: "top",
        axisLine: { show: false }, axisTick: tickStyle, splitLine: { show: false }, axisLabel: { show: false },
      },
    ],
    yAxis: [
      { type: "value", gridIndex: 0, min: 0, max: 247, show: false },
      { type: "value", gridIndex: 1, min: 0, max: 321, show: false },
    ],
    graphic,
    series,
  };
}

export default function App() {
  const ref = useRef<HTMLDivElement>(null);
  useEffect(() => {
    document.body.style.margin = "0";
    if (!ref.current) return;
    const chart = echarts.init(ref.current, null, { renderer: "svg" });
    chart.setOption(buildOption() as any);
    return () => chart.dispose();
  }, []);
  return <div ref={ref} style={{ width: 507, height: 711, background: "#fff" }} />;
}
